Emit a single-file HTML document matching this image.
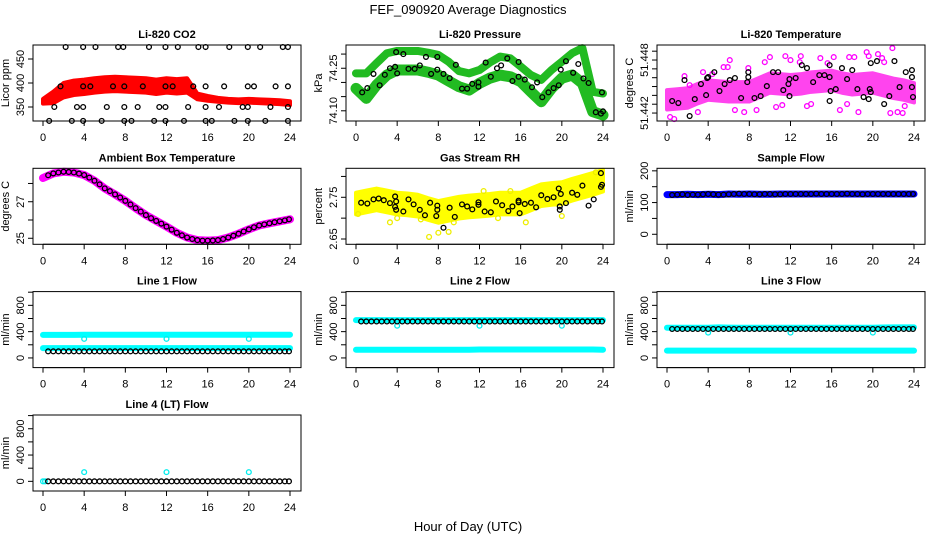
<!DOCTYPE html>
<html><head><meta charset="utf-8"><style>
html,body{margin:0;padding:0;background:#fff;}
svg{display:block;font-family:"Liberation Sans",sans-serif;}
</style></head><body>
<svg id="fig" width="936" height="540" viewBox="0 0 936 540">
<text x="468" y="14" text-anchor="middle" font-size="13">FEF_090920  Average Diagnostics</text>
<text x="468" y="531" text-anchor="middle" font-size="13">Hour of Day (UTC)</text>
</svg>
<script>
// ---------- data ----------
const hours = [0,1,2,3,4,5,6,7,8,9,10,11,12,13,14,15,16,17,18,19,20,21,22,23,24];
const halfHours = [0.5,1,1.5,2,2.5,3,3.5,4,4.5,5,5.5,6,6.5,7,7.5,8,8.5,9,9.5,10,10.5,11,11.5,12,12.5,13,13.5,14,14.5,15,15.5,16,16.5,17,17.5,18,18.5,19,19.5,20,20.5,21,21.5,22,22.5,23,23.5,23.9];
const xTicks = [0,4,8,12,16,20,24];

// CO2
const co2Center = [362,370,385,390,392,395,397,398,397,396,395,392,395,393,395,372,368,365,363,362,363,362,361,360,358];
const co2Half = [5,12,15,15,15,15,15,15,15,15,15,15,15,15,15,6,5,4,4,4,4,4,4,4,4];
const co2BlackH = [2.2,3.9,5.1,7.3,7.8,10.3,11.9,13.1,15.1,15.8,18.1,19.9,21.1,23.3,23.8,
 1.7,3.9,4.6,6.8,7.9,9.7,11.9,12.6,14.6,15.8,17.6,19.9,20.5,22.6,23.8,
 1.1,3.3,3.9,6.2,7.9,9.2,11.3,11.9,14.1,15.8,17.1,19.4,19.9,22.1,23.8,
 0.6,2.8,3.9,5.7,7.9,8.6,10.8,11.9,13.7,15.8,16.4,18.6,19.9,21.6,23.8];
const co2BlackV = [475,475,475,475,475,475,475,475,475,475,475,475,475,475,475,
 393,393,393,393,393,393,393,393,393,393,393,393,393,393,393,
 350,350,350,350,350,350,350,350,350,350,350,350,350,350,350,
 321,321,321,321,321,321,321,321,321,321,321,321,321,321,321];

// Pressure
const presUpper = [74.232,74.232,74.268,74.303,74.311,74.311,74.311,74.305,74.297,74.273,74.240,74.232,74.244,74.270,74.291,74.285,74.256,74.226,74.209,74.244,74.273,74.303,74.321,74.167,74.161];
const presLower = [74.179,74.144,74.191,74.226,74.244,74.244,74.244,74.236,74.226,74.205,74.185,74.173,74.197,74.215,74.226,74.220,74.203,74.167,74.132,74.179,74.215,74.226,74.197,74.097,74.085];
const presBlackH = [0.6,1.1,1.7,2.3,2.8,3.3,3.8,3.9,4.0,4.6,5.1,5.7,6.2,6.8,7.3,7.9,7.9,8.5,9.1,9.7,10.3,10.8,11.3,11.9,11.9,12.6,13.1,13.7,14.1,14.7,15.2,15.8,15.8,16.4,17.1,17.6,18.1,18.7,19.2,19.7,19.9,20.4,21.1,21.6,22.1,22.6,23.3,23.8,23.9,24.0];
const presBlackV = [74.165,74.180,74.230,74.190,74.227,74.250,74.255,74.307,74.232,74.300,74.248,74.248,74.260,74.290,74.230,74.290,74.245,74.230,74.215,74.262,74.178,74.178,74.195,74.200,74.185,74.270,74.220,74.250,74.260,74.285,74.205,74.272,74.220,74.210,74.183,74.200,74.148,74.165,74.180,74.190,74.245,74.275,74.234,74.265,74.214,74.198,74.095,74.090,74.165,74.098];

// Li-820 temperature
const tempCenter = [51.4435,51.4436,51.4437,51.4442,51.4446,51.4445,51.4444,51.4444,51.4444,51.4449,51.4454,51.4453,51.4452,51.4453,51.4455,51.4456,51.4457,51.4454,51.4452,51.4453,51.4454,51.4451,51.4448,51.4446,51.4443];
const tempHalf = 0.0011;
const tempOutH = [0.3,0.7,1.7,3.5,4.4,5.5,5.9,6.6,7.5,7.9,10.6,10.0,11.2,11.5,13.6,14.0,16.2,15.6,16.8,17.5,17.7,18.2,18.6,19.4,19.6,20.5,21.1,21.9,21.7,22.4,22.9,23.1,2.2,6.1,12.0,14.9,9.5,13.0,20.9,3.0,8.7,12.9];
const tempOutV = [51.44155,51.44132,51.44618,51.44663,51.44641,51.4472,51.4472,51.44234,51.44211,51.44709,51.44268,51.44833,51.4429,51.44844,51.44279,51.44302,51.44833,51.44765,51.44234,51.44302,51.44833,51.44833,51.44211,51.44889,51.44844,51.44867,51.44776,51.44935,51.442,51.44211,51.442,51.44279,51.44516,51.44799,51.44799,51.44822,51.44776,51.44844,51.44822,51.44211,51.44234,51.44776];
const tempBlackH = [0.5,1.1,1.7,2.2,2.7,3.3,3.8,3.9,4.0,4.6,5.1,5.6,6.1,6.6,7.2,7.8,7.9,7.9,8.5,9.1,9.7,10.3,10.8,11.3,11.8,11.9,11.9,12.5,13.1,13.6,14.2,14.8,15.3,15.8,15.8,15.9,15.8,16.4,17.0,17.5,18.0,18.5,19.1,19.6,19.7,19.8,19.8,20.4,21.1,21.6,22.1,22.6,23.2,23.8,23.8,23.8,23.9];
const tempBlackV = [51.44336,51.44313,51.44573,51.44166,51.44358,51.44528,51.44403,51.44596,51.44607,51.44663,51.44449,51.44528,51.44573,51.44596,51.44370,51.44550,51.44663,51.44607,51.44370,51.44392,51.44505,51.44663,51.44663,51.44460,51.44528,51.44584,51.44392,51.44596,51.44742,51.44709,51.44550,51.44629,51.44629,51.44742,51.44607,51.44449,51.44336,51.44471,51.44709,51.44584,51.44686,51.44471,51.44381,51.44358,51.44471,51.44437,51.44765,51.44788,51.44302,51.44392,51.44788,51.44494,51.44663,51.44686,51.44607,51.44494,51.44381];

// Ambient box temperature
const ambBand = [28.3,28.55,28.64,28.6,28.46,28.15,27.73,27.4,27.05,26.65,26.27,25.95,25.64,25.3,25.04,24.9,24.87,24.9,25.04,25.25,25.49,25.7,25.82,25.93,26.04];
const ambBlack = [28.45,28.55,28.6,28.64,28.63,28.6,28.54,28.46,28.32,28.15,27.95,27.73,27.58,27.4,27.23,27.05,26.85,26.65,26.46,26.27,26.1,25.95,25.8,25.64,25.47,25.3,25.16,25.04,24.96,24.9,24.87,24.87,24.88,24.9,24.96,25.04,25.14,25.25,25.37,25.49,25.6,25.7,25.76,25.82,25.88,25.93,25.98,26.04];

// Gas stream RH
const rhCenter = [2.735,2.74,2.745,2.74,2.735,2.733,2.73,2.722,2.715,2.72,2.725,2.728,2.73,2.732,2.735,2.735,2.735,2.745,2.755,2.758,2.76,2.768,2.775,2.782,2.79];
const rhHalf = 0.026;
const rhOutH = [0.2,3.3,7.1,8.0,9.0,16.5,20.0,23.3,4.0,9.5,12.4,15.0,6.3,13.8];
const rhOutV = [2.71,2.69,2.655,2.665,2.667,2.69,2.705,2.81,2.70,2.69,2.765,2.765,2.697,2.70];
const rhBlackH = [0.5,1.1,1.7,2.2,2.7,3.3,3.8,3.9,3.9,3.8,4.6,5.1,5.6,6.2,6.7,7.2,7.9,7.8,7.9,8.5,9.1,9.6,10.3,10.8,11.3,11.9,11.9,12.5,13.1,13.6,14.2,14.8,15.2,15.8,15.8,15.9,16.4,17.0,17.5,18.0,18.6,19.2,19.7,19.8,19.8,19.9,20.4,21.0,21.5,22.0,22.6,23.1,23.8,23.9,23.8];
const rhBlackV = [2.737,2.735,2.745,2.747,2.743,2.736,2.752,2.74,2.72,2.727,2.716,2.745,2.733,2.72,2.707,2.737,2.73,2.705,2.72,2.677,2.725,2.703,2.733,2.728,2.721,2.738,2.732,2.716,2.714,2.74,2.731,2.717,2.728,2.742,2.738,2.712,2.734,2.737,2.726,2.755,2.746,2.75,2.771,2.728,2.72,2.758,2.736,2.761,2.756,2.778,2.73,2.745,2.808,2.78,2.775];

// Flows (hourly bands, half-hourly black)
const sampleBand = [125,125,126,125,126,125,127,126,127,126,126,127,127,127,127,127,127,127,127,127,127,127,127,127,127];
const sampleBlack = [124,125,126,124,125,125,126,127,126,125,125,126,127,128,127,127,126,126,127,127,126,126,127,127,127,127,127,127,128,127,127,127,127,127,128,127,127,126,127,127,127,127,127,127,127,127,127,127];
const l1High = [350,350,350,350,352,352,352,352,352,352,352,352,352,352,352,352,352,352,352,352,352,352,352,352,352];
const l1Low = [150,150,150,150,150,150,150,150,150,150,150,150,150,150,150,150,150,150,150,150,150,150,150,150,150];
const l1Black = [100,100,100,100,100,100,100,100,100,100,100,100,100,100,100,100,100,100,100,100,100,100,100,100,100,100,100,100,100,100,100,100,100,100,100,100,100,100,100,100,100,100,100,100,100,100,100,100];
const l1OutH = [4,12,20]; const l1OutV = [290,290,290];
const l2High = [575,575,575,575,575,575,575,575,575,575,575,575,575,575,575,575,575,575,575,575,575,575,575,575,575];
const l2Low = [125,125,125,125,125,125,125,125,125,125,125,125,128,128,128,128,128,128,128,128,128,128,128,128,125];
const l2Black = [555,555,555,555,555,555,555,555,555,555,555,555,555,555,555,555,555,555,555,555,555,555,555,555,555,555,555,555,555,555,555,555,555,555,555,555,555,555,555,555,555,555,555,555,555,555,555,555];
const l2OutH = [4,12,20]; const l2OutV = [490,490,490];
const l3High = [460,460,460,460,460,465,462,460,460,460,460,460,460,460,460,460,460,460,460,460,460,462,465,465,465];
const l3Low = [112,112,112,112,112,112,112,112,112,112,112,112,112,112,112,112,112,112,112,112,112,112,112,112,112];
const l3Black = [440,440,440,440,440,440,440,440,440,440,440,440,440,440,440,440,440,440,440,440,440,440,440,440,440,440,440,440,440,440,440,440,440,440,440,440,440,440,440,440,440,440,440,440,440,440,440,440];
const l3OutH = [4,12,20]; const l3OutV = [385,385,385];
const l4Black = [0,0,0,0,0,0,0,0,0,0,0,0,0,0,0,0,0,0,0,0,0,0,0,0,0,0,0,0,0,0,0,0,0,0,0,0,0,0,0,0,0,0,0,0,0,0,0,0];
const l4OutH = [0,0.2,4,12,20]; const l4OutV = [0,0,140,140,140];

// ---------- drawing ----------
const NS = "http://www.w3.org/2000/svg";
const svg = document.getElementById("fig");
const colLeft = [33, 346, 657];
const rowTop = [45, 168.3, 291.6, 415];
const PW = 268, PH = 76;

function el(tag, attrs, parent){
  const e = document.createElementNS(NS, tag);
  for (const k in attrs) e.setAttribute(k, attrs[k]);
  (parent || svg).appendChild(e);
  return e;
}

function makePanel(key, col, row, title, ylab, dom, yt, ylabels){
  const L = colLeft[col], T = rowTop[row];
  const g = el("g", {});
  
  
  const x = h => L + 10 + h * (247 / 24);
  const y = v => T + PH - (v - dom[0]) / (dom[1] - dom[0]) * PH;
  const marks = el("g", {}, g);
  
  
  const box = el("rect", {x: L, y: T, width: PW, height: PH, fill: "none", stroke: "#000", "stroke-width": 1}, g);
  
  
  const t = el("text", {x: L + PW / 2, y: T - 7, "text-anchor": "middle", "font-size": 11, "font-weight": "bold"}, g);
  t.textContent = title;
  
  
  // x axis
  const xa = el("g", {}, g);
  
  
  el("line", {x1: x(xTicks[0]), x2: x(xTicks[xTicks.length - 1]), y1: T + PH, y2: T + PH, stroke: "#000"}, xa);
  xTicks.forEach(v => {
    el("line", {x1: x(v), x2: x(v), y1: T + PH, y2: T + PH + 5, stroke: "#000"}, xa);
    const tl = el("text", {x: x(v), y: T + PH + 20, "text-anchor": "middle", "font-size": 11}, xa);
    tl.textContent = v;
    
    
  });
  // y axis
  const ya = el("g", {}, g);
  
  
  el("line", {x1: L, x2: L, y1: y(yt[0]), y2: y(yt[yt.length - 1]), stroke: "#000"}, ya);
  yt.forEach((v, i) => {
    el("line", {x1: L - 5, x2: L, y1: y(v), y2: y(v), stroke: "#000"}, ya);
    if (ylabels[i] !== "") {
      const yl = el("text", {x: 0, y: 0, "text-anchor": "middle", "font-size": 11,
        transform: "translate(" + (L - 9) + "," + y(v) + ") rotate(-90)"}, ya);
      yl.textContent = ylabels[i];
      
      
    }
  });
  const yt2 = el("text", {x: 0, y: 0, "text-anchor": "middle", "font-size": 11,
    transform: "translate(" + (L - 24) + "," + (T + PH / 2) + ") rotate(-90)"}, g);
  yt2.textContent = ylab;
  
  
  return {x, y, marks};
}

function band(p, hs, lo, hi, color){
  const pts = [];
  hs.forEach((h, i) => pts.push(p.x(h) + "," + p.y(hi[i])));
  for (let i = hs.length - 1; i >= 0; i--) pts.push(p.x(hs[i]) + "," + p.y(lo[i]));
  const e = el("polygon", {points: pts.join(" "), fill: color, stroke: color, "stroke-width": 4, "stroke-linejoin": "round"}, p.marks);
  
  
}
function thickLine(p, hs, vals, color, w){
  const pts = hs.map((h, i) => p.x(h) + "," + p.y(vals[i])).join(" ");
  const e = el("polyline", {points: pts, fill: "none", stroke: color, "stroke-width": w, "stroke-linejoin": "round", "stroke-linecap": "round"}, p.marks);
  
  
}
function pts(p, hs, vals, color, name){
  hs.forEach((h, i) => {
    const c = el("circle", {cx: p.x(h), cy: p.y(vals[i]), r: 2.4, fill: "none", stroke: color, "stroke-width": 1.3}, p.marks);
    
    
  });
}
const lo = (c, hw) => c.map((v, i) => v - (Array.isArray(hw) ? hw[i] : hw));
const hi = (c, hw) => c.map((v, i) => v + (Array.isArray(hw) ? hw[i] : hw));

// CO2
let p = makePanel("co2", 0, 0, "Li-820 CO2", "Licor ppm", [320.8, 479.2], [350, 400, 450], ["350", "400", "450"]);
band(p, hours, lo(co2Center, co2Half), hi(co2Center, co2Half), "#ff0000");
pts(p, co2BlackH, co2BlackV, "#000", "co2-point");

// Pressure
p = makePanel("pressure", 1, 0, "Li-820 Pressure", "kPa", [74.064, 74.332], [74.10, 74.15, 74.20, 74.25, 74.30], ["74.10", "", "", "74.25", ""]);
thickLine(p, hours, presUpper, "#22bb22", 8);
thickLine(p, hours, presLower, "#22bb22", 11);
pts(p, presBlackH, presBlackV, "#000", "pressure-point");

// Temperature
p = makePanel("li820-temp", 2, 0, "Li-820 Temperature", "degrees C", [51.4411, 51.4497], [51.442, 51.443, 51.444, 51.445, 51.446, 51.447, 51.448, 51.449], ["51.442", "", "", "", "", "", "51.448", ""]);
band(p, hours, lo(tempCenter, tempHalf), hi(tempCenter, tempHalf), "#ff44ee");
pts(p, tempOutH, tempOutV, "#ff00ff", "temperature-outlier");
pts(p, tempBlackH, tempBlackV, "#000", "temperature-point");

// Ambient
p = makePanel("ambient", 0, 1, "Ambient Box Temperature", "degrees C", [24.67, 28.83], [25, 26, 27, 28], ["25", "", "27", ""]);
thickLine(p, hours, ambBand, "#ff00ff", 8);
pts(p, halfHours, ambBlack, "#000", "ambient-point");

// RH
p = makePanel("rh", 1, 1, "Gas Stream RH", "percent", [2.6373, 2.8195], [2.65, 2.70, 2.75, 2.80], ["2.65", "", "2.75", ""]);
band(p, hours, lo(rhCenter, rhHalf), hi(rhCenter, rhHalf), "#ffff00");
pts(p, rhOutH, rhOutV, "#eeee00", "rh-outlier");
pts(p, rhBlackH, rhBlackV, "#000", "rh-point");

// Sample flow
p = makePanel("sample-flow", 2, 1, "Sample Flow", "ml/min", [-31.6, 208], [0, 50, 100, 150, 200], ["0", "", "100", "", "200"]);
thickLine(p, hours, sampleBand, "#0000ff", 7);
pts(p, halfHours, sampleBlack, "#000", "sample-flow-point");

const fDom = [-147, 1009], fT = [0, 200, 400, 600, 800, 1000], fL = ["0", "", "400", "", "800", ""];
p = makePanel("line1", 0, 2, "Line 1 Flow", "ml/min", fDom, fT, fL);
thickLine(p, hours, l1High, "#00ffff", 6);
thickLine(p, hours, l1Low, "#00ffff", 6);
pts(p, l1OutH, l1OutV, "#00eeee", "line1-outlier");
pts(p, halfHours, l1Black, "#000", "line1-point");

p = makePanel("line2", 1, 2, "Line 2 Flow", "ml/min", fDom, fT, fL);
thickLine(p, hours, l2High, "#00ffff", 6);
thickLine(p, hours, l2Low, "#00ffff", 6);
pts(p, l2OutH, l2OutV, "#00eeee", "line2-outlier");
pts(p, halfHours, l2Black, "#000", "line2-point");

p = makePanel("line3", 2, 2, "Line 3 Flow", "ml/min", fDom, fT, fL);
thickLine(p, hours, l3High, "#00ffff", 6);
thickLine(p, hours, l3Low, "#00ffff", 6);
pts(p, l3OutH, l3OutV, "#00eeee", "line3-outlier");
pts(p, halfHours, l3Black, "#000", "line3-point");

p = makePanel("line4", 0, 3, "Line 4 (LT) Flow", "ml/min", fDom, fT, fL);
pts(p, l4OutH, l4OutV, "#00eeee", "line4-outlier");
pts(p, halfHours, l4Black, "#000", "line4-point");
</script>
</body></html>
